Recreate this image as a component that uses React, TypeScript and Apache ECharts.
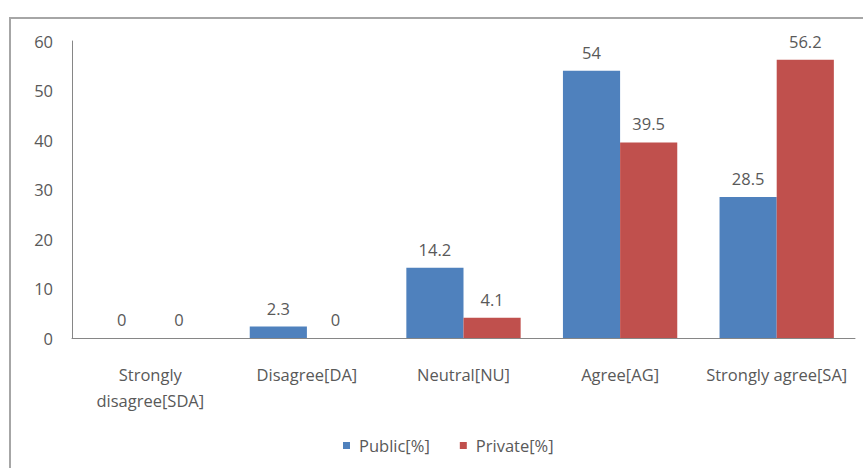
import React, { useEffect, useRef } from "react";
import * as echarts from "echarts";

const categories = ["Strongly\ndisagree[SDA]", "Disagree[DA]", "Neutral[NU]", "Agree[AG]", "Strongly agree[SA]"];
const publicValues = [0, 2.3, 14.2, 54, 28.5];
const privateValues = [0, 0, 4.1, 39.5, 56.2];
const yTicks = { min: 0, max: 60, interval: 10 };

const FONT = "'Open Sans', sans-serif";
const TXT = "#595959";
const FS = 16.5;

export default function App() {
  const ref = useRef<HTMLDivElement>(null);
  useEffect(() => {
    const chart = echarts.init(ref.current!, null, { renderer: "svg" });
    const label = {
      show: true,
      position: "top" as const,
      distance: 10,
      color: TXT,
      fontSize: FS,
      fontFamily: FONT,
    };
    chart.setOption({
      animation: false,
      backgroundColor: "#ffffff",
      graphic: [
        {
          type: "rect",
          shape: { x: 10, y: 18, width: 900, height: 500 },
          style: { fill: "none", stroke: "#a6a6a6", lineWidth: 2 },
          silent: true,
        },
      ],
      grid: { left: 72, right: 8, top: 41, bottom: 130, containLabel: false },
      legend: {
        top: 437,
        left: 343,
        padding: 0,
        itemWidth: 7,
        itemHeight: 7,
        itemGap: 30,
        icon: "rect",
        textStyle: { color: TXT, fontSize: FS, fontFamily: FONT, padding: [0, 0, 0, 4] },
        data: ["Public[%]", "Private[%]"],
      },
      xAxis: {
        type: "category",
        data: categories,
        axisLine: { lineStyle: { color: "#868686", width: 1 } },
        axisTick: { show: false },
        axisLabel: {
          color: TXT,
          fontSize: FS,
          fontFamily: FONT,
          margin: 23,
          lineHeight: 26,
          verticalAlign: "top",
          interval: 0,
        },
      },
      yAxis: {
        type: "value",
        min: yTicks.min,
        max: yTicks.max,
        interval: yTicks.interval,
        axisLine: { show: true, lineStyle: { color: "#868686", width: 1 } },
        axisTick: { show: false },
        splitLine: { show: false },
        axisLabel: { color: TXT, fontSize: FS, fontFamily: FONT, margin: 19 },
      },
      series: [
        {
          name: "Public[%]",
          type: "bar",
          data: publicValues,
          itemStyle: { color: "#4f81bd" },
          barGap: "0%",
          barCategoryGap: "27%",
          label,
        },
        {
          name: "Private[%]",
          type: "bar",
          data: privateValues,
          itemStyle: { color: "#c0504d" },
          barGap: "0%",
          barCategoryGap: "27%",
          label,
        },
      ],
    });
    return () => chart.dispose();
  }, []);
  return (
    <div
      ref={ref}
      style={{ position: "fixed", left: 0, top: 0, width: 863, height: 468 }}
    />
  );
}
